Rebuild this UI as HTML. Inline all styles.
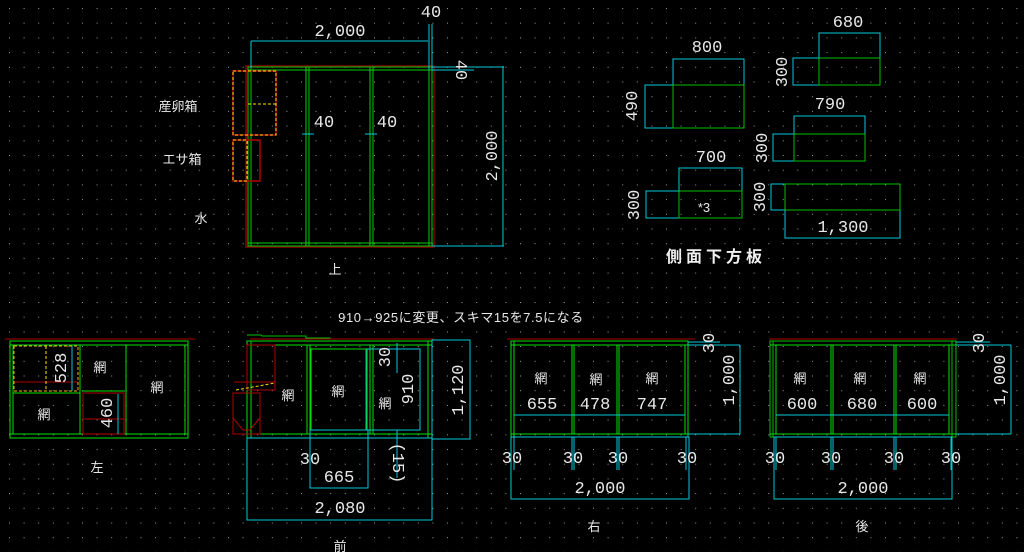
<!DOCTYPE html>
<html><head><meta charset="utf-8"><style>
html,body{margin:0;padding:0;background:#000;width:1024px;height:552px;overflow:hidden}
svg{display:block}
text{font-family:"Liberation Sans","Noto Sans CJK JP",sans-serif;fill:#e8e8e8}
.d{font-size:17px;font-family:"Liberation Mono","Noto Sans CJK JP",monospace}
.j{font-size:13px}
</style></head><body>
<svg width="1024" height="552" viewBox="0 0 1024 552" xmlns="http://www.w3.org/2000/svg">
<defs><pattern id="g" x="9" y="8" width="14.6" height="14.7" patternUnits="userSpaceOnUse"><rect x="0" y="0" width="1" height="1" fill="#9a9a9a"/></pattern></defs>
<rect width="1024" height="552" fill="#000"/>
<rect width="1024" height="552" fill="url(#g)"/>

<!-- TOP VIEW -->
<g fill="none">
<rect x="246" y="66" width="188" height="181" stroke="#8b0000" stroke-width="1.5"/>
<rect x="248" y="67" width="184" height="179" stroke="#00d000"/>
<line x1="248" y1="70" x2="432" y2="70" stroke="#00d000"/>
<line x1="248" y1="243" x2="432" y2="243" stroke="#00d000"/>
<line x1="251" y1="67" x2="251" y2="246" stroke="#00d000"/>
<line x1="429" y1="67" x2="429" y2="246" stroke="#00d000"/>
<line x1="306" y1="67" x2="306" y2="246" stroke="#00d000"/>
<line x1="309" y1="67" x2="309" y2="246" stroke="#00d000"/>
<line x1="370" y1="67" x2="370" y2="246" stroke="#00d000"/>
<line x1="373" y1="67" x2="373" y2="246" stroke="#00d000"/>
<rect x="233" y="71" width="43" height="64" stroke="#b00000" stroke-width="1.5"/>
<rect x="233" y="71" width="43" height="64" stroke="#ffe000" stroke-dasharray="3,2"/>
<line x1="248" y1="104" x2="276" y2="104" stroke="#ffe000" stroke-dasharray="3,2"/>
<rect x="233" y="140" width="27" height="41" stroke="#b00000" stroke-width="1.5"/>
<rect x="233" y="140" width="14" height="41" stroke="#ffe000" stroke-dasharray="3,2"/>
<g stroke="#00c8d8">
<line x1="251" y1="41" x2="428" y2="41"/><line x1="251" y1="41" x2="251" y2="68"/>
<line x1="429" y1="24" x2="429" y2="70"/><line x1="432" y1="24" x2="432" y2="70"/>
<line x1="432" y1="67" x2="504" y2="67"/><line x1="432" y1="70" x2="474" y2="70"/>
<line x1="503" y1="66" x2="503" y2="246"/><line x1="432" y1="246" x2="504" y2="246"/>
<line x1="302" y1="134" x2="314" y2="134"/><line x1="365" y1="134" x2="377" y2="134"/>
</g>
</g>
<text class="d" x="340" y="36" text-anchor="middle">2,000</text>
<text class="d" x="431" y="17" text-anchor="middle">40</text>
<text class="d" transform="translate(456,70) rotate(90)" text-anchor="middle">40</text>
<text class="d" transform="translate(497,156) rotate(-90)" text-anchor="middle">2,000</text>
<text class="d" x="324" y="127" text-anchor="middle">40</text>
<text class="d" x="387" y="127" text-anchor="middle">40</text>
<text class="j" x="178" y="111" text-anchor="middle">産卵箱</text>
<text class="j" x="182" y="164" text-anchor="middle">エサ箱</text>
<text class="j" x="201" y="223" text-anchor="middle">水</text>
<text class="j" x="335" y="274" text-anchor="middle">上</text>

<!-- SIDE PANELS -->
<g fill="none">
<rect x="673" y="59" width="71" height="69" stroke="#00c8d8"/><rect x="645" y="85" width="28" height="43" stroke="#00c8d8"/><rect x="673" y="85" width="71" height="43" stroke="#00c000"/>
<rect x="819" y="33" width="61" height="52" stroke="#00c8d8"/><rect x="793" y="58" width="26" height="27" stroke="#00c8d8"/><rect x="819" y="58" width="61" height="27" stroke="#00c000"/>
<rect x="794" y="116" width="71" height="45" stroke="#00c8d8"/><rect x="773" y="134" width="21" height="27" stroke="#00c8d8"/><rect x="794" y="134" width="71" height="27" stroke="#00c000"/>
<rect x="679" y="168" width="63" height="50" stroke="#00c8d8"/><rect x="646" y="191" width="33" height="27" stroke="#00c8d8"/><rect x="679" y="191" width="63" height="27" stroke="#00c000"/>
<rect x="771" y="184" width="14" height="26" stroke="#00c8d8"/><rect x="785" y="210" width="115" height="28" stroke="#00c8d8"/><rect x="785" y="184" width="115" height="26" stroke="#00c000"/>
</g>
<text class="d" x="707" y="52" text-anchor="middle">800</text>
<text class="d" transform="translate(637,106) rotate(-90)" text-anchor="middle">490</text>
<text class="d" x="848" y="27" text-anchor="middle">680</text>
<text class="d" transform="translate(787,72) rotate(-90)" text-anchor="middle">300</text>
<text class="d" x="830" y="109" text-anchor="middle">790</text>
<text class="d" transform="translate(767,148) rotate(-90)" text-anchor="middle">300</text>
<text class="d" x="711" y="162" text-anchor="middle">700</text>
<text class="d" transform="translate(639,205) rotate(-90)" text-anchor="middle">300</text>
<text class="j" x="704" y="212" text-anchor="middle">*3</text>
<text class="d" transform="translate(765,197) rotate(-90)" text-anchor="middle">300</text>
<text class="d" x="843" y="232" text-anchor="middle">1,300</text>
<text x="716" y="262" text-anchor="middle" style="font-size:16px;font-weight:bold;letter-spacing:4px;fill:#f0f0f0">側面下方板</text>

<text x="461" y="322" text-anchor="middle" style="font-size:13px;letter-spacing:0.6px">910→925に変更、スキマ15を7.5になる</text>

<!-- LEFT VIEW -->
<g fill="none">
<line x1="5" y1="339" x2="195" y2="339" stroke="#b00000"/>
<rect x="10" y="341" width="178" height="97" stroke="#00e000"/>
<line x1="10" y1="345" x2="188" y2="345" stroke="#00e000"/>
<line x1="10" y1="434" x2="188" y2="434" stroke="#00e000"/>
<line x1="13" y1="345" x2="13" y2="434" stroke="#00e000"/>
<line x1="185" y1="345" x2="185" y2="434" stroke="#00e000"/>
<line x1="80" y1="345" x2="80" y2="434" stroke="#00e000"/>
<line x1="126" y1="345" x2="126" y2="434" stroke="#00e000"/>
<line x1="13" y1="393" x2="80" y2="393" stroke="#00e000"/>
<line x1="82" y1="391" x2="125" y2="391" stroke="#00e000"/>
<line x1="14" y1="382" x2="78" y2="382" stroke="#b00000"/>
<rect x="14" y="346" width="64" height="45" stroke="#ffb000" stroke-dasharray="3,2"/>
<line x1="46" y1="346" x2="46" y2="391" stroke="#ffe000" stroke-dasharray="3,2"/>
<line x1="72" y1="346" x2="72" y2="391" stroke="#00c8d8"/>
<rect x="83" y="393" width="41" height="41" stroke="#b00000"/>
<line x1="83" y1="419" x2="124" y2="419" stroke="#b00000"/>
<line x1="118" y1="394" x2="118" y2="434" stroke="#00c8d8"/>
</g>
<text class="d" transform="translate(66,368) rotate(-90)" text-anchor="middle">528</text>
<text class="d" transform="translate(112,413) rotate(-90)" text-anchor="middle">460</text>
<text class="j" x="44" y="419" text-anchor="middle">網</text>
<text class="j" x="100" y="372" text-anchor="middle">網</text>
<text class="j" x="157" y="392" text-anchor="middle">網</text>
<text class="j" x="97" y="472" text-anchor="middle">左</text>

<!-- FRONT VIEW -->
<g fill="none">
<polyline points="247,335 261,335 262,336 306,336 306,338 330,338 330,339 430,339" stroke="#00c000"/>
<line x1="250" y1="339" x2="434" y2="339" stroke="#b00000"/>
<rect x="247" y="341" width="185" height="97" stroke="#00e000"/>
<line x1="247" y1="345" x2="432" y2="345" stroke="#00e000"/>
<line x1="247" y1="434" x2="432" y2="434" stroke="#00e000"/>
<line x1="251" y1="341" x2="251" y2="438" stroke="#00e000"/>
<line x1="428" y1="341" x2="428" y2="438" stroke="#00e000"/>
<line x1="307" y1="345" x2="307" y2="434" stroke="#00e000"/>
<line x1="310" y1="345" x2="310" y2="434" stroke="#00e000"/>
<rect x="311" y="349" width="55" height="81" stroke="#00e000"/>
<line x1="370" y1="345" x2="370" y2="434" stroke="#00e000"/>
<line x1="373" y1="345" x2="373" y2="434" stroke="#00e000"/>
<rect x="367" y="349" width="53" height="81" stroke="#00c8d8"/>
<rect x="247" y="345" width="28" height="45" stroke="#b00000"/>
<line x1="234" y1="382" x2="275" y2="382" stroke="#b00000"/>
<line x1="236" y1="390" x2="275" y2="383" stroke="#ffe000" stroke-dasharray="3,2"/>
<rect x="233" y="393" width="27" height="41" stroke="#b00000"/>
<polyline points="233,418 243,430 250,430 260,418" stroke="#b00000"/>
<rect x="432" y="340" width="38" height="99" stroke="#00c8d8"/>
<rect x="247" y="438" width="185" height="82" stroke="#00c8d8"/>
<rect x="310" y="430" width="58" height="58" stroke="#00c8d8"/>
<line x1="397" y1="430" x2="397" y2="478" stroke="#00c8d8"/>
<line x1="397" y1="343" x2="397" y2="373" stroke="#00c8d8"/>
</g>
<text class="j" x="288" y="400" text-anchor="middle">網</text>
<text class="j" x="338" y="396" text-anchor="middle">網</text>
<text class="j" x="385" y="408" text-anchor="middle">網</text>
<text class="d" transform="translate(413,389) rotate(-90)" text-anchor="middle">910</text>
<text class="d" transform="translate(390,357) rotate(-90)" text-anchor="middle">30</text>
<text class="d" transform="translate(463,390) rotate(-90)" text-anchor="middle">1,120</text>
<text class="d" x="310" y="464" text-anchor="middle">30</text>
<text class="d" x="339" y="482" text-anchor="middle">665</text>
<text class="d" transform="translate(393,463) rotate(90)" text-anchor="middle">(15)</text>
<text class="d" x="340" y="513" text-anchor="middle">2,080</text>
<text class="j" x="340" y="551" text-anchor="middle">前</text>

<!-- RIGHT VIEW -->
<g fill="none">
<line x1="507" y1="339" x2="695" y2="339" stroke="#b00000"/>
<rect x="511" y="341" width="177" height="96" stroke="#00e000"/>
<line x1="511" y1="345" x2="688" y2="345" stroke="#00e000"/>
<line x1="511" y1="434" x2="688" y2="434" stroke="#00e000"/>
<line x1="514" y1="341" x2="514" y2="437" stroke="#00e000"/>
<line x1="572" y1="345" x2="572" y2="434" stroke="#00e000"/>
<line x1="574" y1="345" x2="574" y2="434" stroke="#00e000"/>
<line x1="617" y1="345" x2="617" y2="434" stroke="#00e000"/>
<line x1="619" y1="345" x2="619" y2="434" stroke="#00e000"/>
<line x1="685" y1="345" x2="685" y2="434" stroke="#00e000"/>
<line x1="514" y1="415" x2="685" y2="415" stroke="#00c8d8"/>
<g stroke="#00c8d8">
<line x1="688" y1="345" x2="740" y2="345"/><line x1="688" y1="434" x2="740" y2="434"/><line x1="740" y1="345" x2="740" y2="434"/>
<line x1="688" y1="342" x2="720" y2="342"/>
<rect x="511" y="437" width="178" height="62"/>
<line x1="514" y1="437" x2="514" y2="470"/><line x1="572" y1="437" x2="572" y2="470"/><line x1="574" y1="437" x2="574" y2="470"/>
<line x1="617" y1="437" x2="617" y2="470"/><line x1="619" y1="437" x2="619" y2="470"/><line x1="686" y1="437" x2="686" y2="470"/>
</g>
</g>
<text class="j" x="541" y="383" text-anchor="middle">網</text>
<text class="j" x="596" y="384" text-anchor="middle">網</text>
<text class="j" x="652" y="383" text-anchor="middle">網</text>
<text class="d" x="542" y="409" text-anchor="middle">655</text>
<text class="d" x="595" y="409" text-anchor="middle">478</text>
<text class="d" x="652" y="409" text-anchor="middle">747</text>
<text class="d" x="512" y="463" text-anchor="middle">30</text>
<text class="d" x="573" y="463" text-anchor="middle">30</text>
<text class="d" x="618" y="463" text-anchor="middle">30</text>
<text class="d" x="687" y="463" text-anchor="middle">30</text>
<text class="d" x="600" y="493" text-anchor="middle">2,000</text>
<text class="d" transform="translate(714,343) rotate(-90)" text-anchor="middle">30</text>
<text class="d" transform="translate(734,380) rotate(-90)" text-anchor="middle">1,000</text>
<text class="j" x="594" y="531" text-anchor="middle">右</text>

<!-- BACK VIEW -->
<g fill="none">
<line x1="769" y1="339" x2="957" y2="339" stroke="#b00000"/>
<rect x="770" y="341" width="186" height="96" stroke="#00c000"/>
<line x1="770" y1="345" x2="956" y2="345" stroke="#00e000"/>
<line x1="770" y1="434" x2="956" y2="434" stroke="#00e000"/>
<line x1="773" y1="341" x2="773" y2="437" stroke="#00c000"/>
<line x1="776" y1="345" x2="776" y2="434" stroke="#00e000"/>
<line x1="831" y1="345" x2="831" y2="434" stroke="#00e000"/>
<line x1="833" y1="345" x2="833" y2="434" stroke="#00e000"/>
<line x1="894" y1="345" x2="894" y2="434" stroke="#00e000"/>
<line x1="896" y1="345" x2="896" y2="434" stroke="#00e000"/>
<line x1="949" y1="345" x2="949" y2="434" stroke="#00e000"/>
<line x1="952" y1="341" x2="952" y2="437" stroke="#00c000"/>
<line x1="776" y1="415" x2="949" y2="415" stroke="#00c8d8"/>
<g stroke="#00c8d8">
<line x1="956" y1="345" x2="1011" y2="345"/><line x1="956" y1="434" x2="1011" y2="434"/><line x1="1011" y1="345" x2="1011" y2="434"/>
<line x1="956" y1="342" x2="990" y2="342"/>
<rect x="774" y="437" width="178" height="62"/>
<line x1="776" y1="437" x2="776" y2="470"/><line x1="831" y1="437" x2="831" y2="470"/><line x1="833" y1="437" x2="833" y2="470"/>
<line x1="894" y1="437" x2="894" y2="470"/><line x1="896" y1="437" x2="896" y2="470"/><line x1="951" y1="437" x2="951" y2="470"/>
</g>
</g>
<text class="j" x="800" y="383" text-anchor="middle">網</text>
<text class="j" x="860" y="383" text-anchor="middle">網</text>
<text class="j" x="920" y="383" text-anchor="middle">網</text>
<text class="d" x="802" y="409" text-anchor="middle">600</text>
<text class="d" x="862" y="409" text-anchor="middle">680</text>
<text class="d" x="922" y="409" text-anchor="middle">600</text>
<text class="d" x="775" y="463" text-anchor="middle">30</text>
<text class="d" x="831" y="463" text-anchor="middle">30</text>
<text class="d" x="894" y="463" text-anchor="middle">30</text>
<text class="d" x="951" y="463" text-anchor="middle">30</text>
<text class="d" x="863" y="493" text-anchor="middle">2,000</text>
<text class="d" transform="translate(984,343) rotate(-90)" text-anchor="middle">30</text>
<text class="d" transform="translate(1005,380) rotate(-90)" text-anchor="middle">1,000</text>
<text class="j" x="862" y="531" text-anchor="middle">後</text>
</svg>
</body></html>
